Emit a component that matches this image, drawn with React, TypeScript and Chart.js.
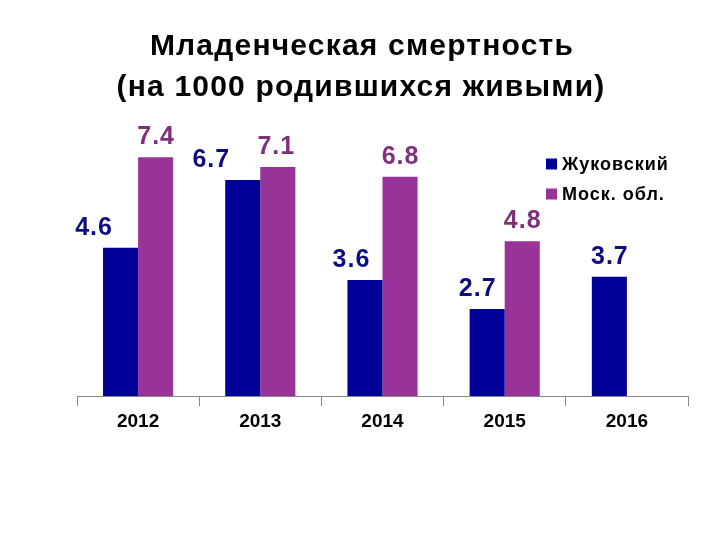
import React, { useEffect, useRef } from "react";
import { Chart, registerables } from "chart.js";

Chart.register(...registerables);

const years = ["2012", "2013", "2014", "2015", "2016"];
const zhukovsky = [4.6, 6.7, 3.6, 2.7, 3.7];
const moscowObl = [7.4, 7.1, 6.8, 4.8, null];
const seriesNames = ["Жуковский", "Моск. обл."];
const titleLines = ["Младенческая смертность", "(на 1000 родившихся живыми)"];

const FONT = '"Liberation Sans", Arial, sans-serif';
const BLUE = "#000099";
const PURPLE = "#993399";
const LABEL_COLORS = ["#0d0d80", "#7e307e"];
// horizontal nudges of the value labels (style only)
const labelShift = [
  [-27, -32, -14, -10, 0],
  [0, -2, 0, 0, 0],
];

const decor = {
  id: "decor",
  afterDatasetsDraw(chart: any) {
    const ctx = chart.ctx;
    ctx.save();
    ctx.font = `bold 25px ${FONT}`;
    (ctx as any).letterSpacing = "1px";
    ctx.textAlign = "center";
    ctx.textBaseline = "middle";
    chart.data.datasets.forEach((ds: any, di: number) => {
      const meta = chart.getDatasetMeta(di);
      meta.data.forEach((bar: any, i: number) => {
        const v = ds.data[i];
        if (v === null || v === undefined) return;
        ctx.fillStyle = LABEL_COLORS[di];
        ctx.fillText(String(v.toFixed(1)), bar.x + labelShift[di][i] + 0.5, bar.y - 20);
      });
    });
    ctx.restore();
  },
  afterDraw(chart: any) {
    const ctx = chart.ctx;
    ctx.save();
    // title
    ctx.fillStyle = "#000";
    ctx.textAlign = "center";
    ctx.textBaseline = "middle";
    ctx.font = `bold 30px ${FONT}`;
    (ctx as any).letterSpacing = "1.2px";
    ctx.fillText(titleLines[0], 362, 47);
    ctx.fillText(titleLines[1], 361, 88);
    // legend
    ctx.textAlign = "left";
    ctx.font = `bold 18px ${FONT}`;
    (ctx as any).letterSpacing = "1px";
    const colors = [BLUE, PURPLE];
    seriesNames.forEach((n, i) => {
      const cy = 164 + i * 30;
      ctx.fillStyle = colors[i];
      ctx.fillRect(546, cy - 5.5, 11, 11);
      ctx.fillStyle = "#000";
      ctx.fillText(n, 562, cy + 1);
    });
    ctx.restore();
  },
};

export default function App() {
  const ref = useRef<HTMLCanvasElement>(null);
  useEffect(() => {
    if (!ref.current) return;
    const chart = new Chart(ref.current, {
      type: "bar",
      data: {
        labels: years,
        datasets: [
          { label: seriesNames[0], data: zhukovsky, backgroundColor: BLUE },
          { label: seriesNames[1], data: moscowObl as any, backgroundColor: PURPLE },
        ],
      },
      options: {
        animation: false,
        responsive: false,
        layout: { padding: { left: 77, right: 32, top: 138, bottom: 0 } },
        datasets: { bar: { categoryPercentage: 0.574, barPercentage: 1 } },
        plugins: {
          legend: { display: false },
          title: { display: false },
          tooltip: { enabled: false },
        },
        scales: {
          x: {
            afterFit: (s: any) => {
              s.height = 144;
            },
            grid: {
              offset: true,
              drawOnChartArea: false,
              drawTicks: true,
              tickLength: 10,
              color: "#888",
            },
            border: { color: "#888" },
            ticks: {
              color: "#000",
              padding: 4,
              font: { family: FONT, size: 19, weight: "bold" },
            },
          },
          y: { display: false, min: 0, max: 8 },
        },
      },
      plugins: [decor],
    });
    return () => chart.destroy();
  }, []);
  return (
    <div style={{ position: "fixed", left: 0, top: 0, width: 720, height: 540, background: "#fff" }}>
      <canvas ref={ref} width={720} height={540} style={{ display: "block" }} />
    </div>
  );
}
